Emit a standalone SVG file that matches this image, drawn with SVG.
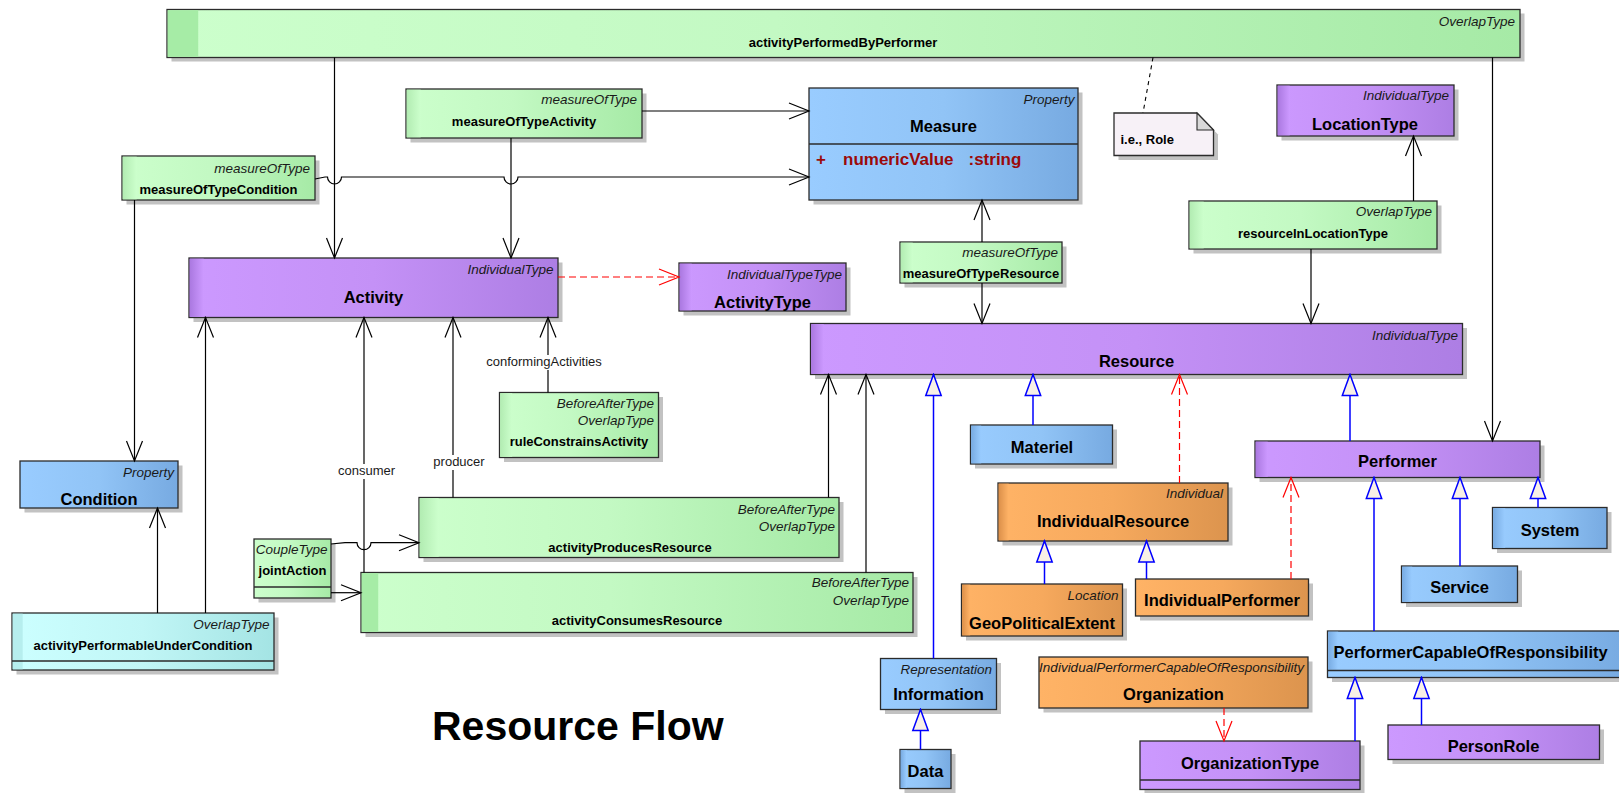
<svg xmlns="http://www.w3.org/2000/svg" width="1619" height="793" viewBox="0 0 1619 793">
  <defs>
    <style>
      text { font-family: "Liberation Sans", Arial, sans-serif; }
      .sh { fill: #c2c2c2; }
      .bx { stroke: #2b2b2b; stroke-width: 1.3; }
      .sep { stroke: #2b2b2b; stroke-width: 1.3; }
      .s { font-style: italic; font-size: 13.5px; text-anchor: end; fill: #1a1a1a; }
      .a { font-weight: bold; font-size: 13px; text-anchor: middle; fill: #000; }
      .n { font-weight: bold; font-size: 16.5px; text-anchor: middle; fill: #000; }
      .l { font-size: 13px; text-anchor: middle; fill: #1a1a1a; }
      .ln { fill: none; stroke: #000; stroke-width: 1.2; }
      .gen { fill: none; stroke: #0000ff; stroke-width: 1.5; }
      .dep { fill: none; stroke: #ff0000; stroke-width: 1.2; stroke-dasharray: 7 4; }
      .nl { fill: none; stroke: #000; stroke-width: 1.1; stroke-dasharray: 4 4; }
      .attr { font-weight: bold; font-size: 17px; fill: #9b0a0a; }
    </style>
    <linearGradient id="gG" x1="0" y1="0" x2="1" y2="0">
      <stop offset="0" stop-color="#ccffcc"/><stop offset="0.45" stop-color="#c3f9c3"/><stop offset="1" stop-color="#a6eaa6"/>
    </linearGradient>
    <linearGradient id="gP" x1="0" y1="0" x2="1" y2="0">
      <stop offset="0" stop-color="#cc99ff"/><stop offset="0.5" stop-color="#c491f6"/><stop offset="1" stop-color="#ad7ee4"/>
    </linearGradient>
    <linearGradient id="gB" x1="0" y1="0" x2="1" y2="0">
      <stop offset="0" stop-color="#99ccff"/><stop offset="0.5" stop-color="#91c4f6"/><stop offset="1" stop-color="#77aae1"/>
    </linearGradient>
    <linearGradient id="gO" x1="0" y1="0" x2="1" y2="0">
      <stop offset="0" stop-color="#ffb366"/><stop offset="0.5" stop-color="#f6a95d"/><stop offset="1" stop-color="#dc944e"/>
    </linearGradient>
    <linearGradient id="gC" x1="0" y1="0" x2="1" y2="0">
      <stop offset="0" stop-color="#ccffff"/><stop offset="0.5" stop-color="#c1f6f6"/><stop offset="1" stop-color="#a4e4e4"/>
    </linearGradient>
    <linearGradient id="sG" x1="0" y1="0" x2="1" y2="0">
      <stop offset="0" stop-color="#b2ecb2"/><stop offset="1" stop-color="#ccffcc"/>
    </linearGradient>
    <linearGradient id="sP" x1="0" y1="0" x2="1" y2="0">
      <stop offset="0" stop-color="#aa78e0"/><stop offset="1" stop-color="#cc99ff"/>
    </linearGradient>
    <linearGradient id="sB" x1="0" y1="0" x2="1" y2="0">
      <stop offset="0" stop-color="#78abe2"/><stop offset="1" stop-color="#99ccff"/>
    </linearGradient>
    <linearGradient id="sO" x1="0" y1="0" x2="1" y2="0">
      <stop offset="0" stop-color="#dc904a"/><stop offset="1" stop-color="#ffb366"/>
    </linearGradient>
    <marker id="open" viewBox="-22 -10 24 20" refX="0" refY="0" markerWidth="24" markerHeight="20" markerUnits="userSpaceOnUse" orient="auto">
      <path d="M-20,-8 L0,0 L-20,8" fill="none" stroke="#000" stroke-width="1.2"/>
    </marker>
    <marker id="openRed" viewBox="-22 -10 24 20" refX="0" refY="0" markerWidth="24" markerHeight="20" markerUnits="userSpaceOnUse" orient="auto">
      <path d="M-20,-8 L0,0 L-20,8" fill="none" stroke="#ff0000" stroke-width="1.2"/>
    </marker>
    <marker id="tri" viewBox="-23 -10 25 20" refX="0" refY="0" markerWidth="25" markerHeight="20" markerUnits="userSpaceOnUse" orient="auto">
      <path d="M0,0 L-21,-7.7 L-21,7.7 Z" fill="#f8f0e6" stroke="#0000ff" stroke-width="1.5" stroke-linejoin="miter"/>
    </marker>
  </defs>

  <rect width="1619" height="793" fill="#ffffff"/>

  <!-- association classes and entity types -->
  <g id="activityPerformedByPerformer">
    <rect class="sh" x="171.5" y="13.5" width="1353" height="48"/>
    <rect class="bx" fill="url(#gG)" x="167" y="9.5" width="1353" height="48"/>
    <rect fill="#a6eca6" x="167.7" y="10.2" width="30.5" height="46.6"/>
    <text class="s" x="1515" y="26">OverlapType</text>
    <text class="a" x="843" y="47">activityPerformedByPerformer</text>
  </g>

  <g id="measureOfTypeActivity">
    <rect class="sh" x="410.5" y="93.5" width="236" height="49"/>
    <rect class="bx" fill="url(#gG)" x="406" y="89" width="236" height="49"/>
    <rect fill="url(#sG)" x="406.7" y="89.7" width="14" height="47.6"/>
    <text class="s" x="637" y="104">measureOfType</text>
    <text class="a" x="524" y="126">measureOfTypeActivity</text>
  </g>

  <g id="measureOfTypeCondition">
    <rect class="sh" x="126.5" y="160.5" width="193" height="44"/>
    <rect class="bx" fill="url(#gG)" x="122" y="156" width="193" height="44"/>
    <rect fill="url(#sG)" x="122.7" y="156.7" width="14" height="42.6"/>
    <text class="s" x="310" y="173">measureOfType</text>
    <text class="a" x="218.5" y="194">measureOfTypeCondition</text>
  </g>

  <g id="Condition">
    <rect class="sh" x="24.5" y="465.5" width="158" height="47"/>
    <rect class="bx" fill="url(#gB)" x="20" y="461" width="158" height="47"/>
    <text class="s" x="174" y="477">Property</text>
    <text class="n" x="99" y="504.5">Condition</text>
  </g>

  <g id="Activity">
    <rect class="sh" x="193.5" y="262.5" width="369" height="59.5"/>
    <rect class="bx" fill="url(#gP)" x="189" y="258" width="369" height="59.5"/>
    <rect fill="url(#sP)" x="189.7" y="258.7" width="14" height="58.1"/>
    <text class="s" x="553.5" y="274">IndividualType</text>
    <text class="n" x="373.5" y="303">Activity</text>
  </g>

  <g id="ActivityType">
    <rect class="sh" x="683.5" y="267.5" width="167" height="48"/>
    <rect class="bx" fill="url(#gP)" x="679" y="263" width="167" height="48"/>
    <rect fill="url(#sP)" x="679.7" y="263.7" width="12" height="46.6"/>
    <text class="s" x="842" y="278.5">IndividualTypeType</text>
    <text class="n" x="762.5" y="307.5">ActivityType</text>
  </g>

  <g id="Measure">
    <rect class="sh" x="813.5" y="92.5" width="269" height="112"/>
    <rect class="bx" fill="url(#gB)" x="809" y="88" width="269" height="112"/>
    <line class="sep" x1="809" y1="144" x2="1078" y2="144"/>
    <text class="s" x="1074.5" y="103.5">Property</text>
    <text class="n" x="943.5" y="131.5">Measure</text>
    <text class="attr" x="816" y="165">+</text>
    <text class="attr" x="843" y="165">numericValue</text>
    <text class="attr" x="968.5" y="165">:string</text>
  </g>

  <g id="measureOfTypeResource">
    <rect class="sh" x="904.5" y="246.5" width="162" height="41"/>
    <rect class="bx" fill="url(#gG)" x="900" y="242" width="162" height="41"/>
    <rect fill="url(#sG)" x="900.7" y="242.7" width="12" height="39.6"/>
    <text class="s" x="1058" y="257">measureOfType</text>
    <text class="a" x="981" y="278">measureOfTypeResource</text>
  </g>

  <g id="Resource">
    <rect class="sh" x="815" y="328" width="652" height="51"/>
    <rect class="bx" fill="url(#gP)" x="810.5" y="323.5" width="652" height="51"/>
    <rect fill="url(#sP)" x="811.2" y="324.2" width="12.5" height="49.6"/>
    <text class="s" x="1458" y="340">IndividualType</text>
    <text class="n" x="1136.5" y="367">Resource</text>
  </g>

  <g id="LocationType">
    <rect class="sh" x="1281.5" y="89.5" width="177" height="51"/>
    <rect class="bx" fill="url(#gP)" x="1277" y="85" width="177" height="51"/>
    <rect fill="url(#sP)" x="1277.7" y="85.7" width="12" height="49.6"/>
    <text class="s" x="1449" y="100">IndividualType</text>
    <text class="n" x="1365" y="129.5">LocationType</text>
  </g>

  <g id="resourceInLocationType">
    <rect class="sh" x="1193.5" y="205.5" width="248" height="48"/>
    <rect class="bx" fill="url(#gG)" x="1189" y="201" width="248" height="48"/>
    <rect fill="url(#sG)" x="1189.7" y="201.7" width="14" height="46.6"/>
    <text class="s" x="1432" y="216">OverlapType</text>
    <text class="a" x="1313" y="237.5">resourceInLocationType</text>
  </g>

  <g id="roleNote">
    <polygon class="sh" points="1118.5,117.5 1201.5,117.5 1218,134.5 1218,160 1118.5,160"/>
    <polygon class="bx" fill="#f7f1f7" points="1114,113 1197,113 1213.5,130 1213.5,155.5 1114,155.5"/>
    <polygon fill="#d9d9d9" stroke="#2b2b2b" stroke-width="1.1" points="1197,113 1197,130 1213.5,130"/>
    <text x="1120.5" y="143.5" font-weight="bold" font-size="13px" fill="#000">i.e., Role</text>
  </g>

  <g id="Performer">
    <rect class="sh" x="1259.5" y="445.5" width="285" height="36.5"/>
    <rect class="bx" fill="url(#gP)" x="1255" y="441" width="285" height="36.5"/>
    <rect fill="url(#sP)" x="1255.7" y="441.7" width="12" height="35.1"/>
    <text class="n" x="1397.5" y="467">Performer</text>
  </g>

  <g id="Materiel">
    <rect class="sh" x="975" y="429.5" width="142" height="39"/>
    <rect class="bx" fill="url(#gB)" x="970.5" y="425" width="142" height="39"/>
    <rect fill="url(#sB)" x="971.2" y="425.7" width="10" height="37.6"/>
    <text class="n" x="1042" y="453">Materiel</text>
  </g>

  <g id="IndividualResource">
    <rect class="sh" x="1002.5" y="487.5" width="230" height="58"/>
    <rect class="bx" fill="url(#gO)" x="998" y="483" width="230" height="58"/>
    <rect fill="url(#sO)" x="998.7" y="483.7" width="10" height="56.6"/>
    <text class="s" x="1223" y="497.5">Individual</text>
    <text class="n" x="1113" y="527">IndividualResource</text>
  </g>

  <g id="GeoPoliticalExtent">
    <rect class="sh" x="966" y="588.5" width="161" height="52"/>
    <rect class="bx" fill="url(#gO)" x="961.5" y="584" width="161" height="52"/>
    <rect fill="url(#sO)" x="962.2" y="584.7" width="8" height="50.6"/>
    <text class="s" x="1118.5" y="600">Location</text>
    <text class="n" x="1042" y="628.5">GeoPoliticalExtent</text>
  </g>

  <g id="IndividualPerformer">
    <rect class="sh" x="1140" y="583.5" width="173" height="37"/>
    <rect class="bx" fill="url(#gO)" x="1135.5" y="579" width="173" height="37"/>
    <text class="n" x="1222" y="606">IndividualPerformer</text>
  </g>

  <g id="Organization">
    <rect class="sh" x="1043.5" y="661.5" width="269" height="51"/>
    <rect class="bx" fill="url(#gO)" x="1039" y="657" width="269" height="51"/>
    <text class="s" x="1304" y="672">IndividualPerformerCapableOfResponsibility</text>
    <text class="n" x="1173.5" y="700">Organization</text>
  </g>

  <g id="OrganizationType">
    <rect class="sh" x="1144.5" y="745.5" width="220" height="48.5"/>
    <rect class="bx" fill="url(#gP)" x="1140" y="741" width="220" height="48.5"/>
    <line class="sep" x1="1140" y1="780" x2="1360" y2="780"/>
    <text class="n" x="1250" y="768.5">OrganizationType</text>
  </g>

  <g id="PerformerCapableOfResponsibility">
    <rect class="sh" x="1332" y="635.5" width="300" height="46.5"/>
    <rect class="bx" fill="url(#gB)" x="1327.5" y="631" width="300" height="46.5"/>
    <rect fill="url(#sB)" x="1328.2" y="631.7" width="10" height="38"/>
    <line class="sep" x1="1327.5" y1="670.5" x2="1627.5" y2="670.5"/>
    <text x="1333.5" y="658" font-weight="bold" font-size="16.5px" fill="#000">PerformerCapableOfResponsibility</text>
  </g>

  <g id="PersonRole">
    <rect class="sh" x="1392.5" y="729.5" width="211.5" height="34.5"/>
    <rect class="bx" fill="url(#gP)" x="1388" y="725" width="211.5" height="34.5"/>
    <text class="n" x="1493.5" y="751.5">PersonRole</text>
  </g>

  <g id="Service">
    <rect class="sh" x="1406" y="570.5" width="116" height="36.5"/>
    <rect class="bx" fill="url(#gB)" x="1401.5" y="566" width="116" height="36.5"/>
    <rect fill="url(#sB)" x="1402.2" y="566.7" width="10" height="35.1"/>
    <text class="n" x="1459.5" y="592.5">Service</text>
  </g>

  <g id="System">
    <rect class="sh" x="1497" y="512" width="114.5" height="41"/>
    <rect class="bx" fill="url(#gB)" x="1492.5" y="507.5" width="114.5" height="41"/>
    <rect fill="url(#sB)" x="1493.2" y="508.2" width="12" height="39.6"/>
    <text class="n" x="1550" y="535.5">System</text>
  </g>

  <g id="Information">
    <rect class="sh" x="885" y="663" width="116" height="51"/>
    <rect class="bx" fill="url(#gB)" x="880.5" y="658.5" width="116" height="51"/>
    <text class="s" x="992" y="673.5">Representation</text>
    <text class="n" x="938.5" y="700" font-size="15px">Information</text>
  </g>

  <g id="Data">
    <rect class="sh" x="904.5" y="754" width="51" height="39"/>
    <rect class="bx" fill="url(#gB)" x="900" y="749.5" width="51" height="39"/>
    <rect fill="url(#sB)" x="900.7" y="750.2" width="6" height="37.6"/>
    <text class="n" x="925.5" y="777">Data</text>
  </g>

  <g id="ruleConstrainsActivity">
    <rect class="sh" x="504" y="397" width="159" height="65"/>
    <rect class="bx" fill="url(#gG)" x="499.5" y="392.5" width="159" height="65"/>
    <rect fill="url(#sG)" x="500.2" y="393.2" width="12" height="63.6"/>
    <text class="s" x="654" y="407.5">BeforeAfterType</text>
    <text class="s" x="654" y="425">OverlapType</text>
    <text class="a" x="579" y="446">ruleConstrainsActivity</text>
  </g>

  <g id="activityProducesResource">
    <rect class="sh" x="423.5" y="502" width="420" height="60"/>
    <rect class="bx" fill="url(#gG)" x="419" y="497.5" width="420" height="60"/>
    <rect fill="url(#sG)" x="419.7" y="498.2" width="19" height="58.6"/>
    <text class="s" x="835" y="513.5">BeforeAfterType</text>
    <text class="s" x="835" y="531">OverlapType</text>
    <text class="a" x="630" y="552">activityProducesResource</text>
  </g>

  <g id="activityConsumesResource">
    <rect class="sh" x="365.5" y="577" width="552" height="60"/>
    <rect class="bx" fill="url(#gG)" x="361" y="572.5" width="552" height="60"/>
    <rect fill="#a6eca6" x="361.7" y="573.2" width="16.5" height="58.6"/>
    <text class="s" x="909" y="587">BeforeAfterType</text>
    <text class="s" x="909" y="604.5">OverlapType</text>
    <text class="a" x="637" y="625">activityConsumesResource</text>
  </g>

  <g id="activityPerformableUnderCondition">
    <rect class="sh" x="16.5" y="617.5" width="262" height="57"/>
    <rect class="bx" fill="url(#gC)" x="12" y="613" width="262" height="57"/>
    <rect fill="#b6eeee" x="12.7" y="613.7" width="10" height="55.6"/>
    <line class="sep" x1="12" y1="661" x2="274" y2="661"/>
    <text class="s" x="269.5" y="628.5">OverlapType</text>
    <text class="a" x="143" y="649.5">activityPerformableUnderCondition</text>
  </g>

  <g id="jointAction">
    <rect class="sh" x="258.5" y="543.5" width="77" height="59"/>
    <rect class="bx" fill="url(#gG)" x="254" y="539" width="77" height="59"/>
    <line class="sep" x1="254" y1="587" x2="331" y2="587"/>
    <text class="s" x="327.5" y="553.5">CoupleType</text>
    <text class="a" x="292.5" y="574.5">jointAction</text>
  </g>

  <!-- connectors -->
  <g id="connectors">
    <!-- associations with open arrowheads -->
    <path class="ln" d="M334.5,57.5 V258" marker-end="url(#open)"/>
    <path class="ln" d="M511,138 V258" marker-end="url(#open)"/>
    <path class="ln" d="M642,111 H809" marker-end="url(#open)"/>
    <path class="ln" d="M315,179 L325,177 H327.5 A7,7 0 0 0 341.5,177 H504 A7,7 0 0 0 518,177 H809" marker-end="url(#open)"/>
    <path class="ln" d="M134.5,200 V461" marker-end="url(#open)"/>
    <path class="ln" d="M982,242 V200" marker-end="url(#open)"/>
    <path class="ln" d="M982,283 V323.5" marker-end="url(#open)"/>
    <path class="ln" d="M1413.5,201 V136" marker-end="url(#open)"/>
    <path class="ln" d="M1311,249 V323.5" marker-end="url(#open)"/>
    <path class="ln" d="M1492.5,57.5 V441" marker-end="url(#open)"/>
    <path class="ln" d="M548,392.5 V317.5" marker-end="url(#open)"/>
    <path class="ln" d="M453,497.5 V317.5" marker-end="url(#open)"/>
    <path class="ln" d="M364,572.5 V317.5" marker-end="url(#open)"/>
    <path class="ln" d="M205.5,613 V317.5" marker-end="url(#open)"/>
    <path class="ln" d="M157.5,613 V508" marker-end="url(#open)"/>
    <path class="ln" d="M331,544 L345,542.7 H357 A7,7 0 0 0 371,542.7 H419" marker-end="url(#open)"/>
    <path class="ln" d="M331,592.7 H361" marker-end="url(#open)"/>
    <path class="ln" d="M828.5,497.5 V374.5" marker-end="url(#open)"/>
    <path class="ln" d="M866,572.5 V374.5" marker-end="url(#open)"/>

    <!-- role labels -->
    <rect x="480" y="355" width="128" height="15" fill="#ffffff"/>
    <text class="l" x="544" y="366">conformingActivities</text>
    <rect x="431" y="455" width="56" height="15" fill="#ffffff"/>
    <text class="l" x="459" y="466">producer</text>
    <rect x="336" y="464" width="61" height="15" fill="#ffffff"/>
    <text class="l" x="366.5" y="475">consumer</text>

    <!-- note link -->
    <path class="nl" d="M1153,57.5 L1143,113"/>

    <!-- dependencies -->
    <path class="dep" d="M558,277 H679" marker-end="url(#openRed)"/>
    <path class="dep" d="M1179.5,483 V374.5" marker-end="url(#openRed)"/>
    <path class="dep" d="M1291,579 V477.5" marker-end="url(#openRed)"/>
    <path class="dep" d="M1224,708 V741" marker-end="url(#openRed)"/>

    <!-- generalizations -->
    <path class="gen" d="M933.5,658.5 V374.5" marker-end="url(#tri)"/>
    <path class="gen" d="M1033,425 V374.5" marker-end="url(#tri)"/>
    <path class="gen" d="M1350,441 V374.5" marker-end="url(#tri)"/>
    <path class="gen" d="M920.5,749.5 V709.5" marker-end="url(#tri)"/>
    <path class="gen" d="M1044.5,584 V541" marker-end="url(#tri)"/>
    <path class="gen" d="M1146.5,579 V541" marker-end="url(#tri)"/>
    <path class="gen" d="M1374,631 V477.5" marker-end="url(#tri)"/>
    <path class="gen" d="M1460,566 V477.5" marker-end="url(#tri)"/>
    <path class="gen" d="M1538,507.5 V477.5" marker-end="url(#tri)"/>
    <path class="gen" d="M1355,741 V677.5" marker-end="url(#tri)"/>
    <path class="gen" d="M1421.5,725 V677.5" marker-end="url(#tri)"/>
  </g>

  <text x="432" y="740" font-weight="bold" font-size="41px" fill="#000">Resource Flow</text>
</svg>
